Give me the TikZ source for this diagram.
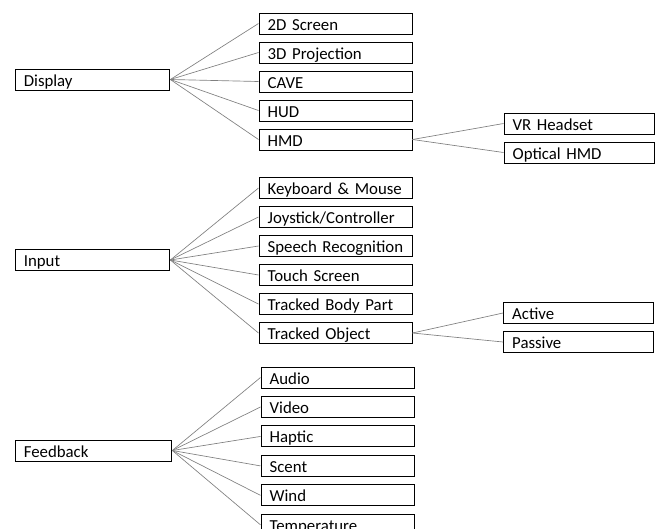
\documentclass[tikz,border=0pt]{standalone}
\usepackage{fontspec}
\setmainfont{Carlito}
\usepackage{tikz}
\usetikzlibrary{positioning}

\begin{document}
\begin{tikzpicture}[
  x=0.75pt, y=-0.75pt,
  box/.style={rectangle, draw=black, line width=0.75pt, fill=white, minimum width=#1, text width=#1-6pt,
    inner xsep=3pt, inner ysep=1pt, text height=11.75pt, text depth=2pt,
    font=\fontsize{12.6}{15}\selectfont,
    execute at begin node={\hbox\bgroup\hspace*{3.5pt}}, execute at end node={\egroup}},
  box/.default=116pt,
  leaf/.style={box=114.75pt},
  subleaf/.style={box=112.5pt},
  link/.style={draw=gray, line width=0.5pt}
]
  \useasboundingbox (0,0) rectangle (658,529);

  % Display
  \node[box] (display) at (92.5,79.5) {Display};
  \node[leaf] (screen) at (335.5,23.5) {2D Screen};
  \node[leaf, below=5.25pt of screen] (proj) {3D Projection};
  \node[leaf, below=5.25pt of proj] (cave) {CAVE};
  \node[leaf, below=5.25pt of cave] (hud) {HUD};
  \node[leaf, below=5.25pt of hud] (hmd) {HMD};
  \node[subleaf] (vr) at (579,123.5) {VR Headset};
  \node[subleaf, below=5.25pt of vr] (optical) {Optical HMD};

  % Input
  \node[box] (input) at (92.5,260) {Input};
  \node[leaf] (keyboard) at (335.5,188) {Keyboard \& Mouse};
  \node[leaf, below=5.25pt of keyboard] (joystick) {Joystick/Controller};
  \node[leaf, below=5.25pt of joystick] (speech) {Speech Recognition};
  \node[leaf, below=5.25pt of speech] (touch) {Touch Screen};
  \node[leaf, below=5.25pt of touch] (body) {Tracked Body Part};
  \node[leaf, below=5.25pt of body] (object) {Tracked Object};
  \node[subleaf] (active) at (578.5,313) {Active};
  \node[subleaf, below=5.25pt of active] (passive) {Passive};

  % Feedback
  \node[box=117.5pt] (feedback) at (93.5,450.5) {Feedback};
  \node[leaf] (audio) at (337.5,377.5) {Audio};
  \node[leaf, below=5.6pt of audio] (video) {Video};
  \node[leaf, below=5.6pt of video] (haptic) {Haptic};
  \node[leaf, below=5.6pt of haptic] (scent) {Scent};
  \node[leaf, below=5.6pt of scent] (wind) {Wind};
  \node[leaf, below=5.6pt of wind] (temp) {Temperature};

  % Links
  \draw[link] (display.east) -- (screen.west);
  \draw[link] (display.east) -- (proj.west);
  \draw[link] (display.east) -- (cave.west);
  \draw[link] (display.east) -- (hud.west);
  \draw[link] (display.east) -- (hmd.west);
  \draw[link] (hmd.east) -- (vr.west);
  \draw[link] (hmd.east) -- (optical.west);

  \draw[link] (input.east) -- (keyboard.west);
  \draw[link] (input.east) -- (joystick.west);
  \draw[link] (input.east) -- (speech.west);
  \draw[link] (input.east) -- (touch.west);
  \draw[link] (input.east) -- (body.west);
  \draw[link] (input.east) -- (object.west);
  \draw[link] (object.east) -- (active.west);
  \draw[link] (object.east) -- (passive.west);

  \draw[link] (feedback.east) -- (audio.west);
  \draw[link] (feedback.east) -- (video.west);
  \draw[link] (feedback.east) -- (haptic.west);
  \draw[link] (feedback.east) -- (scent.west);
  \draw[link] (feedback.east) -- (wind.west);
  \draw[link] (feedback.east) -- (temp.west);
\end{tikzpicture}
\end{document}
